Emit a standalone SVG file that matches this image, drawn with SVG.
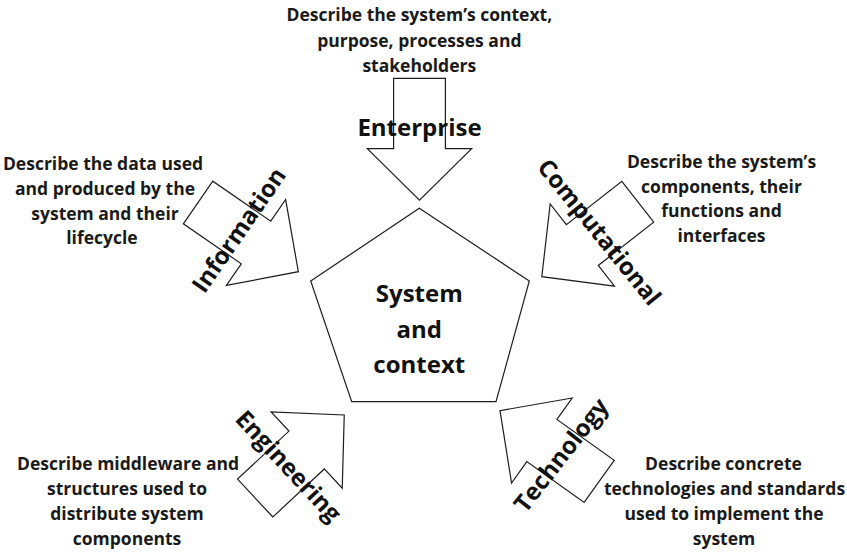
<svg xmlns="http://www.w3.org/2000/svg" xmlns:xlink="http://www.w3.org/1999/xlink" width="847" height="552" viewBox="0 0 847 552">
  <style>
    .shape { fill: #ffffff; stroke: #1e1e1e; stroke-width: 1.2; stroke-linejoin: miter; }
    .desc { font-family: "Open Sans", "Liberation Sans", sans-serif; font-weight: 700; font-size: 17.5px; fill: #1a1a1a; text-anchor: middle; }
    .label { font-family: "Open Sans", "Liberation Sans", sans-serif; font-weight: 700; font-size: 24px; fill: #111111; text-anchor: middle; }
  </style>
  <defs>
    <path id="arrow" d="M-25.9,-60.9 H25.9 V9.5 H52.2 L0,60.9 L-52.2,9.5 H-25.9 Z"/>
  </defs>
  <rect width="847" height="552" fill="#ffffff"/>

  <g id="system">
    <polygon class="shape" points="419.3,208.3 529.3,281 496,401.7 351.7,401.7 310.7,281"/>
    <text class="label"><tspan x="419.3" y="301.7">System</tspan><tspan x="419.3" y="337.7">and</tspan><tspan x="419.3" y="373">context</tspan></text>
  </g>

  <g id="enterprise">
    <use xlink:href="#arrow" href="#arrow" class="shape" transform="translate(419.5,139.2)"/>
    <text class="label" x="419.5" y="135.7">Enterprise</text>
    <text class="desc"><tspan x="419.3" y="20.7">Describe the system’s context,</tspan><tspan x="419.3" y="46.5">purpose, processes and</tspan><tspan x="419.3" y="71.7">stakeholders</tspan></text>
  </g>

  <g id="information">
    <use xlink:href="#arrow" href="#arrow" class="shape" transform="translate(248.2,237.1) rotate(-55.4)"/>
    <text class="label" transform="translate(238.8,230) rotate(-55.4)" y="8.5">Information</text>
    <text class="desc"><tspan x="103" y="170">Describe the data used</tspan><tspan x="105" y="195">and produced by the</tspan><tspan x="105" y="219.5">system and their</tspan><tspan x="102" y="244">lifecycle</tspan></text>
  </g>

  <g id="computational">
    <use xlink:href="#arrow" href="#arrow" class="shape" transform="translate(589.8,239.2) rotate(52)"/>
    <text class="label" transform="translate(599.5,232) rotate(51)" y="8.5">Computational</text>
    <text class="desc"><tspan x="721.5" y="168">Describe the system’s</tspan><tspan x="721.5" y="192.5">components, their</tspan><tspan x="721.5" y="217">functions and</tspan><tspan x="721.5" y="242">interfaces</tspan></text>
  </g>

  <g id="engineering">
    <use xlink:href="#arrow" href="#arrow" class="shape" transform="translate(299.7,456.5) rotate(-133)"/>
    <text class="label" transform="translate(288.5,466) rotate(47)" y="8.5">Engineering</text>
    <text class="desc"><tspan x="128" y="470">Describe middleware and</tspan><tspan x="127" y="495">structures used to</tspan><tspan x="127" y="520">distribute system</tspan><tspan x="127" y="545">components</tspan></text>
  </g>

  <g id="technology">
    <use xlink:href="#arrow" href="#arrow" class="shape" transform="translate(549.6,446) rotate(125.5)"/>
    <text class="label" transform="translate(561,455) rotate(-52)" y="8.5">Technology</text>
    <text class="desc"><tspan x="723.5" y="470">Describe concrete</tspan><tspan x="724.5" y="495">technologies and standards</tspan><tspan x="724" y="520">used to implement the</tspan><tspan x="724" y="544.5">system</tspan></text>
  </g>

  <g id="connectors"/>
</svg>
